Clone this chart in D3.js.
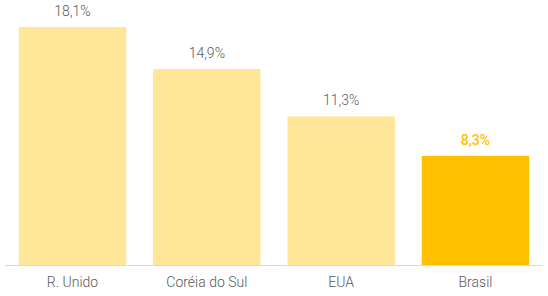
<!DOCTYPE html>
<html>
<head>
<meta charset="utf-8">
<script src="https://cdn.jsdelivr.net/npm/d3@7"></script>
<style>
  body { margin: 0; background: #fff; }
  svg text { font-family: Roboto, "Noto Sans", sans-serif; }
</style>
</head>
<body>
<svg id="chart" width="548" height="296"></svg>
<script>
var countries = ['R. Unido', 'Coréia do Sul', 'EUA', 'Brasil'];
var values = [18.1, 14.9, 11.3, 8.3];
var valueLabels = ['18,1%', '14,9%', '11,3%', '8,3%'];
var highlight = 'Brasil';

var svg = d3.select('#chart');
var width = 548, baseY = 265;

var x = d3.scaleBand()
    .domain(countries)
    .range([0, width])
    .paddingInner(0.2)
    .paddingOuter(0.14);

var y = d3.scaleLinear()
    .domain([0, 20])
    .range([baseY, 2]);

var data = countries.map(function(c, i) {
    return {name: c, value: values[i], label: valueLabels[i]};
});

svg.selectAll('rect.bar')
    .data(data)
  .enter().append('rect')
    .attr('class', 'bar')
    .attr('x', function(d) { return x(d.name); })
    .attr('y', function(d) { return y(d.value); })
    .attr('width', x.bandwidth())
    .attr('height', function(d) { return baseY - y(d.value); })
    .attr('fill', function(d) { return d.name === highlight ? '#FFC000' : '#FFE699'; });

// baseline
svg.append('line')
    .attr('x1', 5).attr('x2', 543)
    .attr('y1', baseY + 0.5).attr('y2', baseY + 0.5)
    .attr('stroke', '#d9d9d9');

svg.selectAll('text.val')
    .data(data)
  .enter().append('text')
    .attr('class', 'val')
    .attr('x', function(d) { return x(d.name) + x.bandwidth() / 2; })
    .attr('y', function(d) { return y(d.value) - 11; })
    .attr('text-anchor', 'middle')
    .attr('font-size', 14)
    .attr('font-weight', function(d) { return d.name === highlight ? 500 : 300; })
    .attr('fill', function(d) { return d.name === highlight ? '#FFC000' : '#595959'; })
    .text(function(d) { return d.label; });

svg.selectAll('text.cat')
    .data(data)
  .enter().append('text')
    .attr('class', 'cat')
    .attr('x', function(d) { return x(d.name) + x.bandwidth() / 2; })
    .attr('y', 287)
    .attr('text-anchor', 'middle')
    .attr('font-size', 14)
    .attr('font-weight', 300)
    .attr('fill', '#595959')
    .text(function(d) { return d.name; });
</script>
</body>
</html>
